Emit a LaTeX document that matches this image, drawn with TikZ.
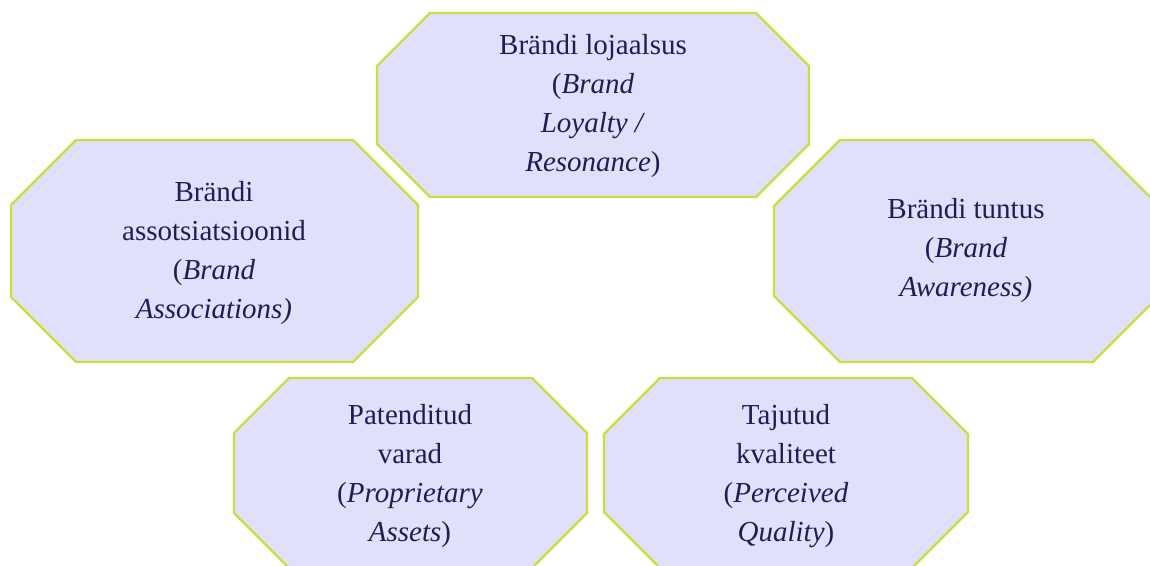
\documentclass[tikz,border=0pt]{standalone}
\usepackage{fontspec}
\setmainfont{Liberation Serif}
\definecolor{octfill}{RGB}{224,224,250}
\definecolor{octedge}{RGB}{204,222,60}
\definecolor{octtext}{RGB}{30,30,85}
\newcommand{\octagonbox}[5]{%
  % #1,#2 = left/top, #3,#4 = right/bottom, #5 = corner cut
  \path[octagon] (#1+#5,#2) -- (#3-#5,#2) -- (#3,#2+#5) -- (#3,#4-#5)
    -- (#3-#5,#4) -- (#1+#5,#4) -- (#1,#4-#5) -- (#1,#2+#5) -- cycle;}
\tikzset{
  octagon/.style={fill=octfill, draw=octedge, line width=2.4pt, line join=miter},
  label text/.style={align=center, text=octtext, inner sep=0pt,
    font=\fontsize{29}{39}\selectfont}
}
\begin{document}
\begin{tikzpicture}[x=1pt,y=-1pt]
\useasboundingbox (0,0) rectangle (1150,565);
\clip (0,0) rectangle (1150,565);
\fill[white] (0,0) rectangle (1150,565);

% the five brand-equity components
\octagonbox{377}{13}{809}{197}{53}
\octagonbox{11}{140}{418}{362}{65}
\octagonbox{774}{140}{1159}{362}{66}
\octagonbox{234}{378}{587}{568}{55}
\octagonbox{604}{378}{968}{568}{56}

\node[label text] (loyalty) at (593,106)
  {Brändi lojaalsus\\(\textit{Brand}\\\textit{Loyalty /}\\\textit{Resonance})};
\node[label text] (assoc) at (214,253)
  {Brändi\\assotsiatsioonid\\(\textit{Brand}\\\textit{Associations)}};
\node[label text] (aware) at (966,251)
  {Brändi tuntus\\(\textit{Brand}\\\textit{Awareness)}};
\node[label text] (assets) at (410,476)
  {Patenditud\\varad\\(\textit{Proprietary}\\\textit{Assets})};
\node[label text] (quality) at (786,476)
  {Tajutud\\kvaliteet\\(\textit{Perceived}\\\textit{Quality})};
\end{tikzpicture}
\end{document}
